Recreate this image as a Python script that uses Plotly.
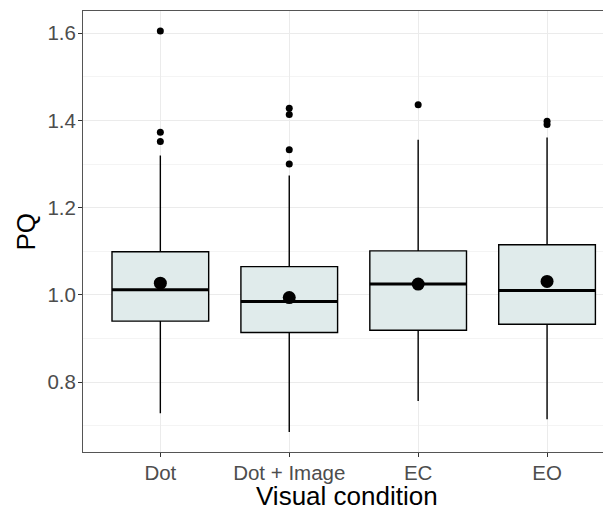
import plotly.graph_objects as go

# Box summaries (one value per visual condition)
categories = ["Dot", "Dot + Image", "EC", "EO"]
q1 = [0.940, 0.914, 0.919, 0.933]
median = [1.012, 0.985, 1.025, 1.010]
q3 = [1.099, 1.065, 1.101, 1.115]
lower_whisker = [0.729, 0.686, 0.757, 0.715]
upper_whisker = [1.320, 1.274, 1.356, 1.361]
means = [1.027, 0.994, 1.025, 1.031]

# Outliers
outlier_cat = ["Dot", "Dot", "Dot",
               "Dot + Image", "Dot + Image", "Dot + Image", "Dot + Image",
               "EC",
               "EO", "EO"]
outlier_val = [1.605, 1.373, 1.352,
               1.428, 1.414, 1.333, 1.300,
               1.436,
               1.398, 1.391]

BOX_WIDTH = 0.75
FONT = "Liberation Sans, Arial, sans-serif"

fig = go.Figure()

fig.add_trace(go.Box(
    x=categories,
    q1=q1,
    median=median,
    q3=q3,
    lowerfence=lower_whisker,
    upperfence=upper_whisker,
    width=BOX_WIDTH,
    whiskerwidth=0,
    fillcolor="#e0ebeb",
    line=dict(color="black", width=1.4),
    boxpoints=False,
    showlegend=False,
))

fig.add_trace(go.Scatter(
    x=outlier_cat,
    y=outlier_val,
    mode="markers",
    marker=dict(color="black", size=7),
    showlegend=False,
))

fig.add_trace(go.Scatter(
    x=categories,
    y=means,
    mode="markers",
    marker=dict(color="black", size=13),
    showlegend=False,
))

# thick median bars, like ggplot's
for i, m in enumerate(median):
    fig.add_shape(
        type="line", xref="x", yref="y",
        x0=i - BOX_WIDTH / 2, x1=i + BOX_WIDTH / 2, y0=m, y1=m,
        line=dict(color="black", width=3),
        layer="above",
    )

# axis titles as annotations so the panel keeps its place
fig.add_annotation(text="Visual condition", xref="paper", yref="paper",
                   x=0.5, y=0, yanchor="middle", yshift=-44, showarrow=False,
                   font=dict(size=26, color="black"))
fig.add_annotation(text="PQ", xref="paper", yref="paper",
                   x=0, y=0.5, xanchor="center", xshift=-58, textangle=-90,
                   showarrow=False, font=dict(size=26, color="black"))

# page body has an 8px margin, so the figure is 8px smaller than the window
fig.update_layout(
    width=603,
    height=500,
    margin=dict(l=75, r=0, t=3, b=56),
    plot_bgcolor="white",
    paper_bgcolor="white",
    font=dict(family=FONT),
)

fig.update_xaxes(
    range=[-0.6, 3.496],
    automargin=False,
    showgrid=True,
    gridcolor="#ebebeb",
    gridwidth=1,
    showline=True,
    mirror=True,
    linecolor="#555555",
    linewidth=1,
    ticks="outside",
    ticklen=4,
    tickcolor="#333333",
    ticklabelstandoff=-2,
    tickfont=dict(size=20.5, color="#4d4d4d"),
    zeroline=False,
)

fig.update_yaxes(
    range=[0.640, 1.651],
    automargin=False,
    tickvals=[0.8, 1.0, 1.2, 1.4, 1.6],
    ticktext=["0.8", "1.0", "1.2", "1.4", "1.6"],
    showgrid=True,
    gridcolor="#ebebeb",
    gridwidth=1,
    minor=dict(tickvals=[0.7, 0.9, 1.1, 1.3, 1.5], showgrid=True,
               gridcolor="#f4f4f4", gridwidth=1, ticks=""),
    showline=True,
    mirror=False,
    linecolor="#555555",
    linewidth=1,
    ticks="outside",
    ticklen=4,
    tickcolor="#333333",
    ticklabelstandoff=-2,
    tickfont=dict(size=20.5, color="#4d4d4d"),
    zeroline=False,
)

fig.write_html("out.html")
